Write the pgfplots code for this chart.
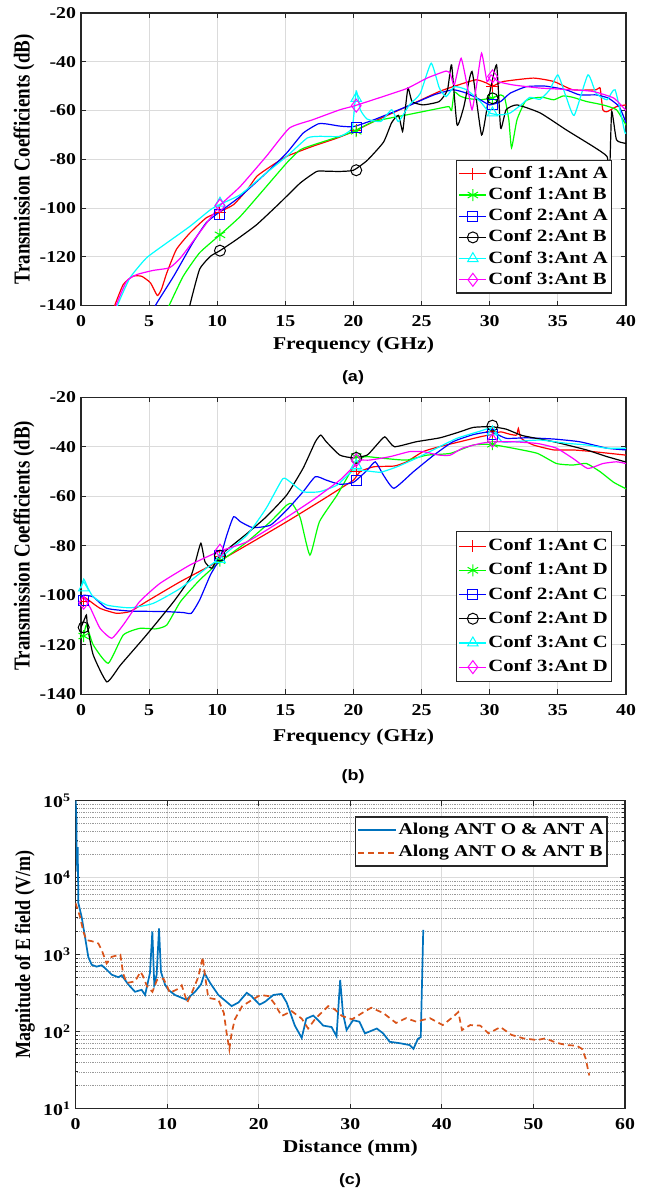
\documentclass[border=0pt]{standalone}
\usepackage{fontspec}
\setmainfont{Liberation Serif}[FakeStretch=1.2]
\newfontfamily\plainserif{Liberation Serif}
\newfontfamily\capfont{Liberation Sans}[FakeStretch=1.2]
\usepackage{graphicx}
\usepackage{pgfplots}
\pgfplotsset{compat=1.18}
\definecolor{mlblue}{rgb}{0,0.447,0.741}
\definecolor{mlorange}{rgb}{0.85,0.325,0.098}
\definecolor{cred}{rgb}{1,0,0}
\definecolor{cgreen}{rgb}{0,1,0}
\definecolor{cblue}{rgb}{0,0,1}
\definecolor{cblack}{rgb}{0,0,0}
\definecolor{ccyan}{rgb}{0,1,1}
\definecolor{cmagenta}{rgb}{1,0,1}
\definecolor{gridgray}{rgb}{0.86,0.86,0.86}
\definecolor{axgray}{rgb}{0.15,0.15,0.15}
\pgfplotsset{legend image code/.code={\draw[mark repeat=2,mark phase=2,#1] plot coordinates {(0pt,0pt) (13.5pt,0pt) (27pt,0pt)};}}
\pgfplotsset{
  base/.style={scale only axis, anchor=north west,
    axis line style={line width=1.4pt, axgray},
    tick style={line width=1pt, axgray},
    major tick length=5pt, minor tick length=3pt, tick align=inside,
    grid=major, major grid style={line width=0.9pt, gridgray},
    tick label style={font=\fontsize{16.5}{16.5}\selectfont\bfseries},
    xticklabel style={yshift=-6.5pt},
    yticklabel style={xshift=-1.5pt},
    /pgf/number format/assume math mode=true,
    label style={font=\fontsize{18}{18}\selectfont\bfseries},
    legend cell align=left,
  },
  s1/.style={draw=cred, color=cred, line width=1.2pt, mark=+, mark size=6pt, mark options={solid,line width=1pt,draw=cred}},
  s2/.style={draw=cgreen, color=cgreen, line width=1.2pt, mark=asterisk, mark size=6pt, mark options={solid,line width=1pt,draw=cgreen}},
  s3/.style={draw=cblue, color=cblue, line width=1.2pt, mark=square, mark size=5pt, mark options={solid,line width=1pt,draw=cblue}},
  s4/.style={draw=cblack, color=cblack, line width=1.2pt, mark=o, mark size=5.5pt, mark options={solid,line width=1pt,draw=cblack}},
  s5/.style={draw=ccyan, color=ccyan, line width=1.2pt, mark=triangle, mark size=6pt, mark options={solid,line width=1pt,draw=ccyan}},
  s6/.style={draw=cmagenta, color=cmagenta, line width=1.2pt, mark=diamond, mark size=6.5pt, mark options={solid,line width=1pt,draw=cmagenta}},
  ln/.style={mark=none, smooth, tension=0.3, forget plot},
  mk/.style={only marks, forget plot},
}
\begin{document}
\begin{tikzpicture}
\path[use as bounding box] (0pt,0pt) rectangle (653pt,-1192pt);

%%%%%%%%%%%%%%%%%%%%%%% (a)
\begin{axis}[base, at={(81pt,-13pt)}, width=545pt, height=292.5pt,
  xmin=0, xmax=40, ymin=-140, ymax=-20,
  xtick={0,5,...,40}, ytick={-140,-120,...,-20},
  xlabel={Frequency (GHz)},
  ylabel={\scalebox{1}[1.2]{\plainserif\bfseries\fontsize{19}{19}\selectfont Transmission Coefficients (dB)}},
  xlabel style={at={(axis description cs:0.5,-0.135)}, anchor=center},
  ylabel style={at={(axis description cs:-0.1046,0.5)}, anchor=center},
  legend style={at={(0.974,0.041)}, anchor=south east, draw=axgray, line width=1.2pt, fill=white,
    font=\fontsize{17.2}{17.2}\selectfont\bfseries, inner xsep=2pt, inner ysep=2.5pt, row sep=0pt,
    nodes={inner xsep=1.5pt, inner ysep=2.2pt, text height=12.8pt, text depth=4pt}},
]
\addplot[s1, ln] coordinates {(2.3,-143) (2.5,-139.6) (3.1,-131.4) (3.8,-128) (4.45,-128) (5.1,-130.7) (5.6,-135.9) (5.9,-133.4) (6.3,-126.6) (7.0,-117) (8.0,-110.2) (9.2,-104) (10.2,-101.5) (11.2,-98.6) (12.2,-92.5) (12.9,-87) (13.9,-83) (15.1,-78.8) (17.0,-74.7) (18.8,-71.3) (20.0,-68.6) (21.5,-64.5) (23.9,-58.4) (26.3,-52.2) (27.7,-49.5) (29.0,-47.4) (29.8,-48.8) (30.2,-50) (31.0,-48.1) (33.2,-46.7) (34.7,-48.1) (36.1,-51.5) (37.8,-51.5) (38.1,-50.8) (38.3,-59.7) (38.6,-60.5) (39.3,-58.4) (40,-57.7)};
\addplot[s2, ln] coordinates {(6.2,-143) (6.5,-139.6) (7.5,-128) (8.7,-118.4) (10.2,-111) (11.7,-103.4) (13.4,-92.5) (15.1,-81.5) (16.1,-76.1) (17.0,-74.2) (19.0,-70.6) (20.0,-68.6) (21.5,-64.5) (23.9,-61.8) (26.3,-59.1) (27.0,-58.4) (27.2,-60) (27.4,-52.5) (27.8,-54) (28.3,-55) (29.3,-55.6) (30.1,-54.9) (30.8,-53.6) (31.1,-54.9) (31.4,-63.8) (31.6,-75.3) (32.0,-63.8) (32.6,-56.3) (33.2,-54.9) (33.9,-54.6) (34.7,-55.6) (35.4,-54) (36.1,-54.6) (37.1,-56.3) (38.3,-57.7) (39.3,-59.7) (40,-66)};
\addplot[s3, ln] coordinates {(5.3,-143) (5.5,-139.6) (6.8,-128) (8.2,-114.3) (9.2,-106) (10.2,-101.5) (11.7,-95.2) (13.6,-85.6) (15.1,-77.4) (16.3,-69.3) (17.4,-65.5) (18.0,-65.5) (19.0,-66.4) (20.0,-66.6) (21.5,-63.8) (23.9,-58.4) (25.9,-53.6) (27.3,-51.5) (28.3,-52.9) (29.3,-55.6) (30.0,-57.7) (30.8,-56.3) (31.5,-52.9) (32.7,-50.2) (34.1,-50) (35.6,-51.5) (36.6,-53.6) (37.8,-53.6) (38.7,-54.9) (39.5,-58.4) (40,-65)};
\addplot[s4, ln] coordinates {(7.9,-143) (8.0,-139.6) (8.7,-125.2) (9.5,-119.8) (10.2,-117.5) (11.4,-113) (12.9,-106.8) (14.6,-97.9) (16.1,-89.7) (17.3,-85) (18.0,-84.9) (19.0,-85) (20.0,-84.5) (21.0,-80.5) (22.2,-73) (22.8,-65) (23.3,-62) (23.6,-68.6) (23.75,-62) (24.0,-50.8) (24.3,-56.3) (25.1,-57.7) (26.3,-56.3) (26.9,-51.5) (27.2,-41.3) (27.6,-65.9) (28.1,-58.4) (28.7,-44) (29.4,-70) (29.9,-55.6) (30.5,-41.3) (30.8,-67.2) (31.2,-59.7) (32.0,-57.7) (33.7,-61) (35.6,-67.9) (37.6,-74.8) (38.6,-78.8) (38.8,-85) (38.95,-60.4) (39.3,-72) (39.9,-73.4) (40,-73.4)};
\addplot[s5, ln] coordinates {(2.6,-142) (2.7,-139.6) (3.6,-128.6) (4.8,-120.5) (6.3,-114.3) (8.0,-107.5) (9.5,-100.7) (10.2,-98.5) (11.7,-94.5) (13.6,-85.6) (15.1,-78.8) (16.6,-71.3) (17.5,-70.6) (19.0,-70.6) (19.9,-67.1) (20.2,-52) (20.5,-59.7) (21.0,-63.5) (22.0,-64.5) (22.8,-59.7) (23.3,-64.5) (24.1,-57.7) (24.9,-53) (25.7,-40.6) (26.3,-50.8) (26.8,-54.3) (27.4,-50.2) (28.3,-51.5) (29.3,-56.3) (30.0,-61) (30.8,-61.8) (31.5,-61) (32.3,-57.7) (32.95,-54.6) (33.7,-55.4) (34.4,-51.5) (35.0,-45.4) (35.6,-54.3) (36.2,-62) (37.2,-45.4) (37.8,-52.9) (38.6,-55.6) (39.2,-51.5) (39.9,-68.6) (40,-69)};
\addplot[s6, ln] coordinates {(2.55,-142) (2.6,-139.6) (3.35,-130) (4.1,-127.3) (5.3,-125.6) (6.5,-124.5) (7.3,-120.5) (8.5,-111.6) (10.2,-99) (11.7,-91.1) (13.6,-78.8) (15.3,-67.2) (17.0,-63.8) (19.0,-59.7) (20.0,-58.2) (21.5,-55.5) (23.9,-51) (25.4,-46.7) (26.8,-43.8) (27.1,-45) (27.4,-49.5) (27.9,-38.6) (28.4,-51.5) (28.7,-59.7) (29.0,-50.8) (29.4,-36.5) (29.8,-48.1) (30.1,-45.4) (30.6,-48.1) (31.7,-49.5) (33.7,-50.8) (36.1,-51.5) (37.6,-52.2) (39.1,-54.9) (40,-60)};
\addplot[s1, mk] coordinates {(10.2,-102) (20.2,-68) (30.2,-50)};
\addplot[s2, mk] coordinates {(10.2,-111) (20.2,-68.5) (30.2,-55)};
\addplot[s3, mk] coordinates {(10.2,-102.5) (20.2,-67) (30.2,-57.5)};
\addplot[s4, mk] coordinates {(10.2,-117.5) (20.2,-84.5) (30.2,-55)};
\addplot[s5, mk] coordinates {(10.2,-98) (20.2,-55) (30.2,-61)};
\addplot[s6, mk] coordinates {(10.2,-99) (20.2,-58) (30.2,-46)};
\addlegendimage{s1}\addlegendentry{Conf 1:Ant A}
\addlegendimage{s2}\addlegendentry{Conf 1:Ant B}
\addlegendimage{s3}\addlegendentry{Conf 2:Ant A}
\addlegendimage{s4}\addlegendentry{Conf 2:Ant B}
\addlegendimage{s5}\addlegendentry{Conf 3:Ant A}
\addlegendimage{s6}\addlegendentry{Conf 3:Ant B}
\end{axis}

%%%%%%%%%%%%%%%%%%%%%%% (b)
\begin{axis}[base, at={(81pt,-397.2pt)}, width=545pt, height=297pt,
  xmin=0, xmax=40, ymin=-140, ymax=-20,
  xtick={0,5,...,40}, ytick={-140,-120,...,-20},
  xlabel={Frequency (GHz)},
  ylabel={\scalebox{1}[1.2]{\plainserif\bfseries\fontsize{19}{19}\selectfont Transmission Coefficients (dB)}},
  xlabel style={at={(axis description cs:0.5,-0.145)}, anchor=center},
  ylabel style={at={(axis description cs:-0.1046,0.5)}, anchor=center},
  legend style={at={(0.974,0.04)}, anchor=south east, draw=axgray, line width=1.2pt, fill=white,
    font=\fontsize{17.2}{17.2}\selectfont\bfseries, inner xsep=2pt, inner ysep=2.5pt, row sep=0pt,
    nodes={inner xsep=1.5pt, inner ysep=2.6pt, text height=14pt, text depth=5pt}},
]
\addplot[s1, ln] coordinates {(0,-101.5) (0.3,-101) (1.4,-105.3) (2.6,-107.3) (3.6,-106.6) (4.8,-102.6) (7.3,-94.5) (10.2,-86) (12.6,-78.4) (15.1,-70.3) (17.5,-62.2) (19.0,-57) (20.0,-53.5) (20.5,-50) (21.5,-48.1) (23.0,-47.8) (23.9,-46.1) (25.1,-42) (26.3,-40) (27.8,-38) (29.3,-36) (30.1,-35.1) (30.8,-34) (31.5,-35) (31.97,-35.3) (32.1,-32.6) (32.3,-36.6) (33.2,-39.3) (34.7,-41.3) (36.1,-41.3) (37.6,-42) (40,-43.4)};
\addplot[s2, ln] coordinates {(0,-117) (0.2,-116.1) (0.4,-112) (0.9,-120.1) (2.0,-127.5) (3.1,-116.1) (4.3,-113.4) (5.5,-113.6) (6.3,-112) (7.3,-102.6) (8.7,-93.9) (10.2,-86.5) (12.2,-78.4) (13.9,-70.3) (15.1,-63.6) (15.5,-63) (16.1,-68.9) (16.8,-83.8) (17.5,-70.3) (18.8,-59.5) (20.0,-48.1) (20.6,-44.5) (21.0,-44) (22.2,-44.7) (23.9,-45.4) (25.4,-43.4) (27.1,-42.7) (28.8,-39.3) (30.1,-39.1) (31.7,-40.6) (33.5,-42.7) (34.9,-46.8) (36.1,-47.4) (37.1,-46.8) (38.1,-50.1) (39.1,-54.4) (40,-57)};
\addplot[s3, ln] coordinates {(0,-101) (0.2,-100) (0.9,-100.7) (1.9,-105.3) (3.6,-106.4) (6.1,-106.6) (7.5,-107) (8.1,-107.3) (8.7,-102) (9.5,-91.8) (10.2,-85) (10.7,-75.7) (11.2,-68.3) (11.7,-70.3) (12.6,-72.7) (13.9,-71.7) (15.1,-65.6) (16.3,-58.2) (17.2,-52.1) (18.0,-53.5) (19.0,-55.2) (20.0,-54.4) (21.0,-49.5) (21.6,-46.1) (22.2,-51.5) (22.97,-56.8) (24.4,-50.1) (25.9,-43.4) (27.3,-38) (28.8,-35.1) (30.1,-34) (31.2,-36.6) (32.7,-36.4) (34.7,-36.9) (36.6,-38) (38.6,-40.6) (40,-41.3)};
\addplot[s4, ln] coordinates {(0,-113) (0.3,-109.1) (0.4,-108) (0.5,-113.4) (0.9,-124.2) (1.9,-135) (2.9,-128.2) (4.8,-116.1) (6.8,-102.6) (8.0,-93.2) (8.4,-86.5) (8.8,-79) (9.1,-86.5) (9.6,-89.1) (10.2,-84) (12.2,-75) (13.6,-68.3) (15.1,-59.5) (16.3,-48.7) (17.2,-38) (17.6,-35.3) (18.0,-38) (19.0,-43.4) (20.0,-44.5) (21.0,-43.4) (21.7,-39.3) (22.3,-36) (23.0,-40) (24.6,-38) (26.35,-36.4) (27.8,-34) (28.8,-32.2) (30.1,-31.9) (31.2,-32.9) (32.4,-35.5) (34.7,-38) (37.1,-41.3) (38.6,-44) (40,-46.2)};
\addplot[s5, ln] coordinates {(0,-97.2) (0.2,-93.5) (0.5,-97) (0.9,-100.7) (1.9,-104) (3.6,-105.1) (5.3,-103.3) (7.3,-97.2) (9.2,-89.1) (10.2,-85) (12.2,-75.6) (13.6,-64.8) (14.8,-53) (15.3,-54) (16.3,-58.2) (17.5,-58.2) (18.8,-55.5) (20.0,-49.5) (21.0,-49.8) (22.0,-50.3) (23.2,-48.1) (24.6,-44.7) (26.1,-40.6) (27.6,-36.6) (29.3,-33.7) (30.1,-32.6) (30.9,-38) (31.7,-38) (33.7,-37.3) (35.6,-38.6) (37.1,-39.3) (38.6,-40.6) (40,-40.6)};
\addplot[s6, ln] coordinates {(0,-101.5) (0.2,-101) (0.7,-105.3) (1.4,-113.4) (2.25,-117.4) (3.1,-112) (4.3,-102.6) (5.8,-95.2) (8.0,-87.8) (10.1,-82.4) (12.2,-78.4) (14.6,-70.3) (17.0,-61.6) (19.0,-53.5) (20.0,-48.1) (20.5,-45.5) (21.2,-45.4) (22.7,-44) (24.1,-42) (25.1,-42) (26.3,-43.4) (27.1,-43.4) (28.0,-40.6) (29.3,-38.7) (30.2,-38) (31.7,-38) (33.5,-38.7) (34.9,-40.6) (36.1,-44.7) (37.2,-48.8) (38.3,-46.8) (39.3,-46.1) (40,-46.8)};
\addplot[s1, mk] coordinates {(0.2,-102.5) (10.2,-84.5) (20.2,-50) (30.2,-34)};
\addplot[s2, mk] coordinates {(0.2,-116.5) (10.2,-86) (20.2,-44) (30.2,-39)};
\addplot[s3, mk] coordinates {(0.2,-102) (10.2,-84) (20.2,-53.5) (30.2,-35)};
\addplot[s4, mk] coordinates {(0.2,-113) (10.2,-84) (20.2,-44.5) (30.2,-31.5)};
\addplot[s5, mk] coordinates {(0.2,-97) (10.2,-85.5) (20.2,-47.5) (30.2,-34)};
\addplot[s6, mk] coordinates {(0.2,-103) (10.2,-82) (20.2,-45.5) (30.2,-37.5)};
\addlegendimage{s1}\addlegendentry{Conf 1:Ant C}
\addlegendimage{s2}\addlegendentry{Conf 1:Ant D}
\addlegendimage{s3}\addlegendentry{Conf 2:Ant C}
\addlegendimage{s4}\addlegendentry{Conf 2:Ant D}
\addlegendimage{s5}\addlegendentry{Conf 3:Ant C}
\addlegendimage{s6}\addlegendentry{Conf 3:Ant D}
\end{axis}

%%%%%%%%%%%%%%%%%%%%%%% (c)
\begin{axis}[base, at={(75.5pt,-800.7pt)}, width=549.5pt, height=308pt,
  xmin=0, xmax=60, ymode=log, ymin=10, ymax=100000,
  xtick={0,10,...,60}, minor x tick num=0,
  ytick={10,100,1000,10000,100000},
  yticklabels={10\textsuperscript{1},10\textsuperscript{2},10\textsuperscript{3},10\textsuperscript{4},10\textsuperscript{5}},
  yminorgrids=true, minor grid style={line width=0.8pt, densely dotted, black!40},
  xlabel={Distance (mm)},
  ylabel={\scalebox{1}[1.2]{\plainserif\bfseries\fontsize{18}{18}\selectfont Magnitude of E field (V/m)}},
  xlabel style={at={(axis description cs:0.5,-0.1286)}, anchor=center},
  ylabel style={at={(axis description cs:-0.0919,0.5)}, anchor=center},
  legend style={at={(0.969,0.95)}, anchor=north east, draw=axgray, line width=1.6pt, fill=white,
    font=\fontsize{16.5}{16.5}\selectfont\bfseries, inner xsep=2pt, inner ysep=2pt, row sep=0pt,
    nodes={inner xsep=1.5pt, inner ysep=2.5pt, text height=13pt, text depth=4.5pt}},
  legend image code/.code={\draw[#1] (0pt,0pt) -- (38pt,0pt);},
]
\addplot[mlblue, line width=1.7pt] coordinates {(0.02,100000) (0.1,60000) (0.13,20000) (0.2,12000) (0.24,25000) (0.28,10000) (0.31,4700) (0.67,3100) (1.04,1700) (1.4,930) (1.77,740) (2.31,700) (2.86,730) (3.4,640) (3.95,550) (4.68,510) (5.04,540) (5.77,410) (6.5,330) (7.22,350) (7.6,300) (8.13,580) (8.39,2000) (8.6,410) (8.86,550) (9.12,2200) (9.33,600) (9.77,410) (10.13,350) (10.86,300) (12.1,260) (13.05,330) (13.7,410) (14.1,575) (14.7,430) (15.6,300) (17.05,215) (17.8,240) (18.7,320) (19.2,290) (20.1,225) (20.7,245) (21.6,300) (22.5,310) (23.05,240) (23.95,120) (24.7,83) (25.2,148) (25.96,162) (26.5,141) (27.05,120) (27.96,115) (28.5,87) (28.9,470) (29.2,174) (29.6,105) (30.3,141) (31.0,135) (31.6,95) (32.9,110) (33.6,95) (34.3,74) (35.4,71) (36.5,67) (36.9,60) (37.4,81) (37.7,85) (37.97,2100)};
\addlegendentry{Along ANT O \& ANT A}
\addplot[mlorange, line width=1.7pt, dash pattern=on 6pt off 4pt] coordinates {(0,4700) (0.5,3100) (0.85,2000) (1.2,1550) (1.77,1500) (2.5,1400) (2.86,1150) (3.4,770) (3.95,940) (4.9,1000) (5.2,570) (5.6,430) (6.5,450) (7.1,600) (7.4,520) (7.8,390) (8.4,330) (8.9,470) (9.6,490) (10.0,390) (10.3,320) (11.3,365) (11.6,400) (12.2,240) (12.7,320) (13.4,510) (13.9,930) (14.1,580) (14.5,275) (15.6,260) (16.2,175) (16.5,96) (16.8,59) (17.05,96) (17.4,145) (18.2,215) (19.3,260) (20.2,300) (21.1,290) (21.8,225) (22.5,160) (23.6,185) (24.7,148) (25.4,110) (26.2,148) (27.6,215) (28.3,195) (29.1,160) (30.2,145) (31.3,175) (32.3,205) (33.6,175) (35.0,130) (36.1,150) (37.2,135) (38.7,150) (40.1,122) (41.2,155) (41.8,180) (42.2,105) (43.1,122) (44.2,120) (45.1,95) (46.4,115) (47.6,91) (48.9,82) (50.4,78) (51.3,82) (52.5,72) (53.6,67) (54.7,66) (55.3,60) (55.7,45) (56.1,27)};
\addlegendentry{Along ANT O \& ANT B}
\end{axis}

\node[font=\capfont\bfseries\fontsize{15}{15}\selectfont] at (353pt,-378pt) {(a)};
\node[font=\capfont\bfseries\fontsize{15}{15}\selectfont] at (353pt,-777pt) {(b)};
\node[font=\capfont\bfseries\fontsize{15}{15}\selectfont] at (350pt,-1181pt) {(c)};
\end{tikzpicture}
\end{document}
